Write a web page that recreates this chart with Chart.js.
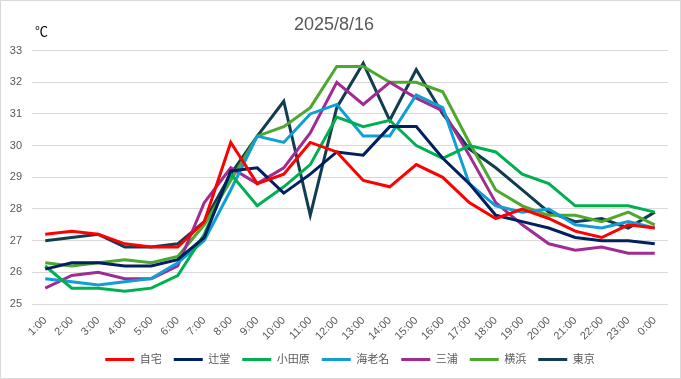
<!DOCTYPE html>
<html>
<head>
<meta charset="utf-8">
<script src="https://cdn.jsdelivr.net/npm/chart.js@4"></script>
<style>
html,body{margin:0;padding:0;background:#fff;}
#wrap{width:681px;height:379px;position:relative;}
</style>
</head>
<body>
<div id="wrap"><canvas id="c" width="681" height="379"></canvas></div>
<script>
const categories = ["1:00","2:00","3:00","4:00","5:00","6:00","7:00","8:00","9:00","10:00","11:00","12:00","13:00","14:00","15:00","16:00","17:00","18:00","19:00","20:00","21:00","22:00","23:00","0:00"];
const jitaku   = [27.2,27.3,27.2,26.9,26.8,26.8,27.6,30.1,28.8,29.1,30.1,29.8,28.9,28.7,29.4,29.0,28.2,27.7,28.0,27.7,27.3,27.1,27.5,27.4];
const tsujido  = [26.1,26.3,26.3,26.2,26.2,26.4,27.1,29.2,29.3,28.5,29.1,29.8,29.7,30.6,30.6,29.6,28.8,27.8,27.6,27.4,27.1,27.0,27.0,26.9];
const odawara  = [26.2,25.5,25.5,25.4,25.5,25.9,27.2,29.1,28.1,28.7,29.4,30.9,30.6,30.8,30.0,29.6,30.0,29.8,29.1,28.8,28.1,28.1,28.1,27.9];
const ebina    = [25.8,25.7,25.6,25.7,25.8,26.3,27.0,28.6,30.3,30.1,31.0,31.3,30.3,30.3,31.6,31.2,28.8,28.1,27.9,28.0,27.5,27.4,27.6,27.4];
const miura    = [25.5,25.9,26.0,25.8,25.8,26.2,28.2,29.3,28.8,29.3,30.4,32.0,31.3,32.0,31.5,31.1,29.7,28.2,27.5,26.9,26.7,26.8,26.6,26.6];
const yokohama = [26.3,26.2,26.3,26.4,26.3,26.5,27.5,28.9,30.3,30.6,31.2,32.5,32.5,32.0,32.0,31.7,30.1,28.6,28.1,27.8,27.8,27.6,27.9,27.5];
const tokyo    = [27.0,27.1,27.2,26.8,26.8,26.9,27.6,29.1,30.3,31.4,27.8,31.2,32.6,30.8,32.4,31.0,29.9,29.3,28.6,27.9,27.6,27.7,27.4,27.9];
const seriesNames = ["自宅","辻堂","小田原","海老名","三浦","横浜","東京"];
const seriesColors = ["#FF0000","#002060","#00B050","#0F9ED5","#A02B93","#4EA72E","#123C50"];
const seriesValues = [jitaku,tsujido,odawara,ebina,miura,yokohama,tokyo];
const titleText = "2025/8/16";
const unitText = "℃";
const yMin = 25, yMax = 33, yStep = 1;

const FONT = "'Liberation Sans','Noto Sans CJK JP',sans-serif";

const decor = {
  id: 'decor',
  afterDraw(chart) {
    const ctx = chart.ctx;
    ctx.save();
    ctx.strokeStyle = '#d9d9d9';
    ctx.lineWidth = 1;
    ctx.strokeRect(0.5, 0.5, chart.width - 1, chart.height - 1);
    ctx.fillStyle = '#000';
    ctx.font = "13px " + FONT;
    ctx.textBaseline = 'middle';
    ctx.textAlign = 'left';
    ctx.fillText(unitText, 35, 32);
    ctx.restore();
  }
};

new Chart(document.getElementById('c'), {
  type: 'line',
  data: {
    labels: categories,
    datasets: seriesNames.map((n, i) => ({
      label: n,
      data: seriesValues[i],
      borderColor: seriesColors[i],
      backgroundColor: seriesColors[i],
      borderWidth: 3,
      pointRadius: 0,
      pointHoverRadius: 0,
      tension: 0,
      fill: false
    }))
  },
  options: {
    responsive: false,
    animation: false,
    layout: { padding: { left: 0, right: 13, top: 0, bottom: 4 } },
    plugins: {
      tooltip: { enabled: false },
      title: {
        display: true,
        text: titleText,
        color: '#595959',
        font: { family: FONT, size: 18, weight: 'normal' },
        padding: { top: 14, bottom: 15 }
      },
      legend: {
        position: 'bottom',
        fullSize: false,
        labels: {
          color: '#595959',
          font: { family: FONT, size: 11 },
          usePointStyle: true,
          pointStyle: 'line',
          pointStyleWidth: 29,
          boxHeight: 11,
          padding: 12
        }
      }
    },
    scales: {
      x: {
        offset: true,
        grid: { display: false },
        border: { display: false },
        ticks: {
          color: '#595959',
          font: { family: FONT, size: 11 },
          minRotation: 45,
          maxRotation: 45,
          autoSkip: false,
          padding: 2
        },
        afterFit(scale) { scale.height = 38; }
      },
      y: {
        min: yMin,
        max: yMax,
        border: { display: false },
        grid: { color: '#d9d9d9', lineWidth: 1, drawTicks: false },
        ticks: {
          stepSize: yStep,
          color: '#595959',
          font: { family: FONT, size: 11 },
          padding: 10
        },
        afterFit(scale) { scale.width = 32; }
      }
    }
  },
  plugins: [decor]
});
</script>
</body>
</html>
